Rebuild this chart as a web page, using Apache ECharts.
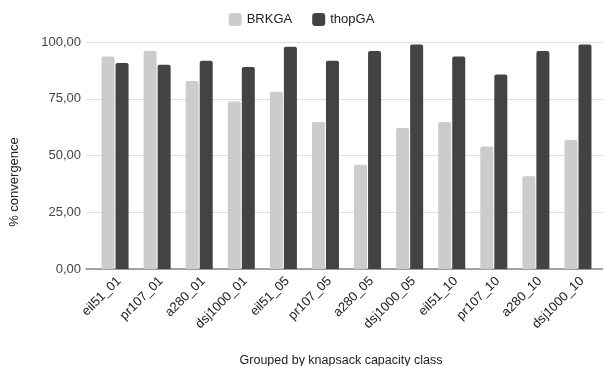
<!DOCTYPE html>
<html>
<head>
<meta charset="utf-8">
<script src="https://cdn.jsdelivr.net/npm/echarts@6/dist/echarts.min.js"></script>
<style>
  html, body { margin: 0; padding: 0; background: #fff; }
  #chart { width: 603px; height: 366px; }
</style>
</head>
<body>
<div id="chart"></div>
<script>
// Instance classes, grouped by knapsack capacity class
const categories = ['eil51_01', 'pr107_01', 'a280_01', 'dsj1000_01', 'eil51_05', 'pr107_05',
  'a280_05', 'dsj1000_05', 'eil51_10', 'pr107_10', 'a280_10', 'dsj1000_10'];

// Percentage of runs that converged
const brkga  = [93.6, 96.0, 82.8, 73.8, 78.1, 64.8, 45.9, 62.1, 64.8, 54.0, 40.9, 56.8];
const thopga = [90.7, 90.0, 91.7, 89.0, 97.9, 91.7, 96.0, 98.9, 93.6, 85.7, 96.0, 98.9];

const yTicks = { min: 0, max: 100, interval: 25 };

const fmt = v => v.toFixed(2).replace('.', ',');
const font = 'Arial, "Liberation Sans", sans-serif';

const chart = echarts.init(document.getElementById('chart'), null, { renderer: 'canvas' });

chart.setOption({
  animation: false,
  textStyle: { fontFamily: font },
  legend: {
    top: 8,
    left: 'center',
    itemWidth: 13,
    itemHeight: 13,
    itemGap: 20,
    icon: 'roundRect',
    textStyle: { fontSize: 13, color: '#222', fontFamily: font },
    data: ['BRKGA', 'thopGA']
  },
  title: {
    text: 'Grouped by knapsack capacity class',
    left: 336,
    top: 349,
    textAlign: 'center',
    textStyle: { fontSize: 12.5, fontWeight: 'normal', color: '#222', fontFamily: font }
  },
  graphic: [{
    type: 'text',
    x: 14,
    y: 182,
    rotation: Math.PI / 2,
    style: {
      text: '% convergence',
      font: '13px ' + font,
      fill: '#222',
      align: 'center',
      verticalAlign: 'middle'
    }
  }],
  grid: [
    // background grid carrying the value scale and grid lines
    { left: 86, right: 0, top: 42, bottom: 97 },
    // plotting grid for the bars
    { left: 94, right: 4, top: 42, bottom: 97 },
    // grid for the category labels
    { left: 98, right: 0, top: 42, bottom: 97 }
  ],
  xAxis: [
    {
      gridIndex: 0, type: 'category', data: categories,
      axisLine: { show: true, lineStyle: { color: '#888', width: 1.5 } },
      axisTick: { show: false }, axisLabel: { show: false }
    },
    {
      gridIndex: 1, type: 'category', data: categories,
      axisLine: { show: false }, axisTick: { show: false }, axisLabel: { show: false }
    },
    {
      gridIndex: 2, type: 'category', data: categories,
      axisLine: { show: false }, axisTick: { show: false },
      axisLabel: { rotate: 45, fontSize: 13, color: '#222', margin: 10, fontFamily: font }
    }
  ],
  yAxis: [
    {
      gridIndex: 0, type: 'value', min: yTicks.min, max: yTicks.max, interval: yTicks.interval,
      axisLabel: { formatter: fmt, fontSize: 13, color: '#444', margin: 5, fontFamily: font },
      axisLine: { show: false }, axisTick: { show: false },
      splitLine: { lineStyle: { color: '#e0e0e0', width: 1 } }
    },
    {
      gridIndex: 1, type: 'value', min: yTicks.min, max: yTicks.max, interval: yTicks.interval,
      show: false, splitLine: { show: false }
    },
    {
      gridIndex: 2, type: 'value', min: yTicks.min, max: yTicks.max, interval: yTicks.interval,
      show: false, splitLine: { show: false }
    }
  ],
  series: [
    {
      name: 'BRKGA', type: 'bar', xAxisIndex: 1, yAxisIndex: 1,
      data: brkga, barWidth: 13, barGap: '8%',
      itemStyle: { color: '#cccccc', borderRadius: [2, 2, 0, 0] }
    },
    {
      name: 'thopGA', type: 'bar', xAxisIndex: 1, yAxisIndex: 1,
      data: thopga, barWidth: 13, barGap: '8%',
      itemStyle: { color: '#434343', borderRadius: [2, 2, 0, 0] }
    }
  ]
});
</script>
</body>
</html>
